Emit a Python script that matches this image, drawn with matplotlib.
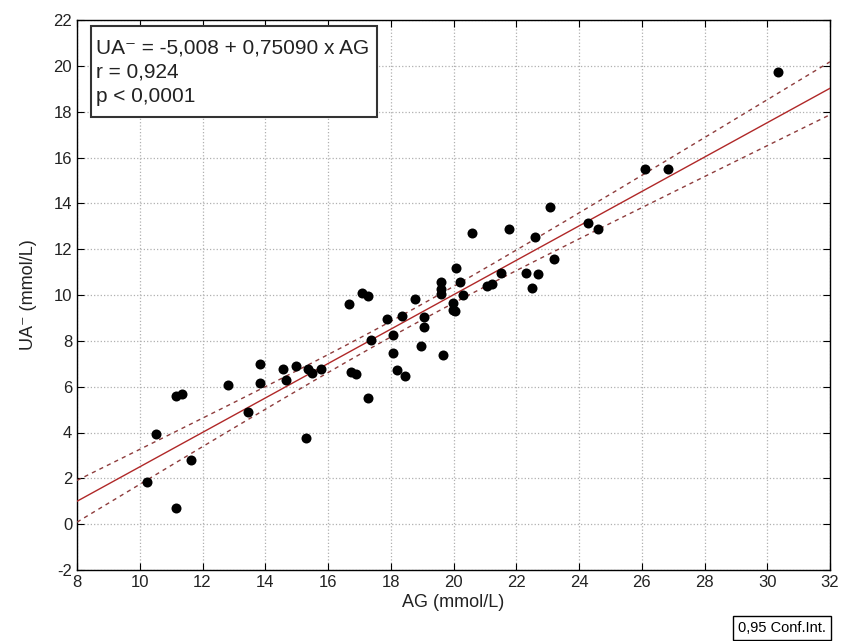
import numpy as np
import matplotlib
matplotlib.use("Agg")
import matplotlib.pyplot as plt
from matplotlib.patches import Rectangle

plt.rcParams['font.family'] = ['Liberation Sans', 'DejaVu Sans']
plt.rcParams['axes.unicode_minus'] = False

ag = [10.22, 10.53, 11.14, 11.36, 11.14, 11.64, 12.82, 13.44, 13.83, 13.83,
      14.58, 14.66, 14.97, 15.29, 15.37, 15.48, 15.77, 16.68, 16.73, 16.88,
      17.07, 17.28, 17.28, 17.37, 17.89, 18.06, 18.06, 18.19, 18.37, 18.47,
      18.77, 18.98, 19.07, 19.07, 19.6, 19.6, 19.6, 19.68, 19.99, 19.99,
      20.05, 20.07, 20.21, 20.29, 20.6, 21.06, 21.22, 21.51, 21.78, 22.3,
      22.51, 22.6, 22.7, 23.08, 23.21, 24.3, 24.61, 26.09, 26.85, 30.33]
ua = [1.84, 3.95, 5.58, 5.7, 0.71, 2.81, 6.06, 4.9, 7.01, 6.16,
      6.76, 6.28, 6.89, 3.77, 6.76, 6.61, 6.76, 9.6, 6.64, 6.54,
      10.1, 9.97, 5.51, 8.03, 8.97, 8.27, 7.48, 6.72, 9.09, 6.48,
      9.82, 7.78, 9.02, 8.61, 10.57, 10.28, 10.03, 7.37, 9.63, 9.34,
      9.3, 11.16, 10.57, 9.99, 12.71, 10.38, 10.5, 10.97, 12.9, 10.98,
      10.31, 12.54, 10.9, 13.85, 11.56, 13.13, 12.9, 15.48, 15.48, 19.72]
intercept = -5.008
slope = 0.75090
x_ticks = list(range(8, 33, 2))
y_ticks = list(range(-2, 23, 2))
stats_lines = ["UA\u207b = -5,008 + 0,75090 x AG", "r = 0,924", "p < 0,0001"]

x = np.array(ag)
y = np.array(ua)
n = len(x)
resid = y - (intercept + slope * x)
s = np.sqrt(np.sum(resid ** 2) / (n - 2))
xm = x.mean()
sxx = np.sum((x - xm) ** 2)
xl = np.linspace(8, 32, 200)
yl = intercept + slope * xl
se = s * np.sqrt(1.0 / n + (xl - xm) ** 2 / sxx)
t = 2.0017

W, H = 847, 641
fig = plt.figure(figsize=(W/100, H/100), dpi=100)
ax = fig.add_axes([77/W, 1 - 570/H, (830-77)/W, (570-20)/H])

ax.plot(xl, yl, color='#b02828', lw=1.0, zorder=3)
ax.plot(xl, yl + t * se, color='#8e3c3c', lw=1.0, ls=(0, (3, 3)), zorder=3)
ax.plot(xl, yl - t * se, color='#8e3c3c', lw=1.0, ls=(0, (3, 3)), zorder=3)
ax.scatter(x, y, s=52, color='black', zorder=4, linewidths=0)

ax.set_xlim(8, 32)
ax.set_ylim(-2, 22)
ax.set_xticks(x_ticks)
ax.set_yticks(y_ticks)
ax.tick_params(direction='in', top=True, right=True, labelsize=12, length=5,
               color='black', labelcolor='#222222')
ax.grid(True, color='#b0b0b0', ls=':', lw=0.9)
for sp in ax.spines.values():
    sp.set_linewidth(1.0)
    sp.set_color('black')
ax.set_xlabel('AG (mmol/L)', fontsize=13, color='#222222', labelpad=3)
ax.set_ylabel('UA\u207b (mmol/L)', fontsize=13, color='#222222', labelpad=12)

# stats box (pixel-positioned in figure coordinates)
box = Rectangle((91/W, 1 - 117/H), (377-91)/W, (117-26)/H, transform=fig.transFigure,
                fc='white', ec='#333333', lw=1.5, zorder=10)
fig.patches.append(box)
for i, line in enumerate(stats_lines):
    fig.text(96/W, 1 - (48 + 24*i)/H, line, fontsize=15, va='center', ha='left',
             color='#222222', zorder=11)

fig.text(738/W, 1 - 628/H, '0,95 Conf.Int.', fontsize=10.5, ha='left', va='center',
         bbox=dict(boxstyle='square,pad=0.35', fc='white', ec='black', lw=1.0))

fig.savefig('out.png', dpi=100)
